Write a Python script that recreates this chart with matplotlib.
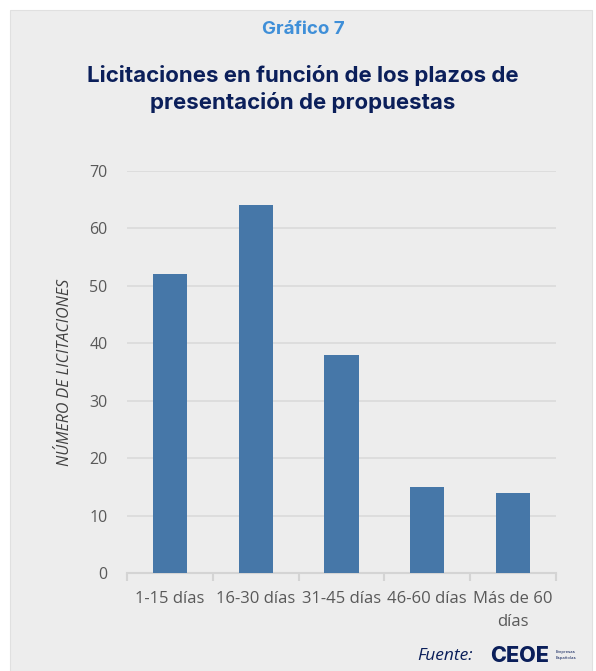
import numpy as np
import matplotlib.pyplot as plt
from matplotlib.patches import Rectangle

# ==========================
# Data
# ==========================

categories = ["1-15 días", "16-30 días", "31-45 días", "46-60 días", "Más de 60\ndías"]
values = [52, 64, 38, 15, 14]
y_ticks = [0, 10, 20, 30, 40, 50, 60, 70]

bg = "#ededed"
navy = "#0b1f5a"
gray_text = "#595959"

fig = plt.figure(figsize=(5.96, 6.71), dpi=100)
fig.patch.set_facecolor("white")

# gray panel
fig.patches.append(Rectangle((10 / 596, 0), 582 / 596, 1 - 10 / 671,
                             transform=fig.transFigure, facecolor=bg,
                             edgecolor="#e0e0e0", linewidth=0.8, zorder=-10))

ax = fig.add_axes([127 / 596, 1 - 573 / 671, 429 / 596, 402 / 671])
ax.set_facecolor(bg)

x = np.arange(len(categories))
ax.bar(x, values, width=0.4, color="#4677a8", zorder=3)

ax.set_xlim(-0.5, len(categories) - 0.5)
ax.set_ylim(0, 70)
ax.set_yticks(y_ticks)
ax.set_yticklabels([str(t) for t in y_ticks], color=gray_text, fontsize=11.5,
                   family="Open Sans")
ax.grid(axis="y", color="#dadada", linewidth=1.2, zorder=0)

for s in ["top", "right", "left"]:
    ax.spines[s].set_visible(False)
ax.spines["bottom"].set_color("#d4d4d4")
ax.spines["bottom"].set_linewidth(1.5)
ax.tick_params(axis="y", length=0, pad=14)

ax.set_xticks(np.arange(-0.5, len(categories), 1.0))
ax.set_xticklabels([])
ax.tick_params(axis="x", which="major", length=6, width=1.5, color="#d4d4d4")
ax.set_xticks(x, minor=True)
ax.set_xticklabels(categories, minor=True, color=gray_text, fontsize=12,
                   family="Open Sans", linespacing=1.6)
ax.tick_params(axis="x", which="minor", length=0, pad=13)

ax.set_ylabel("NÚMERO DE LICITACIONES", fontsize=11.5, style="italic",
              color="#404040", family="Open Sans", labelpad=12)

# ==========================
# Titles
# ==========================

fig.text(303 / 596, 1 - 30 / 671, "Gráfico 7", ha="center", va="center",
         fontsize=13.5, fontweight="bold", color="#3f8fd8", family="Inter")
fig.text(303 / 596, 1 - 89 / 671,
         "Licitaciones en función de los plazos de\npresentación de propuestas",
         ha="center", va="center", fontsize=16, fontweight="bold",
         color=navy, family="Inter", linespacing=1.32)

# ==========================
# Source
# ==========================

fig.text(473 / 596, 1 - 656 / 671, "Fuente:", ha="right", va="center",
         fontsize=12.5, style="italic", color=navy, family="Open Sans")
fig.text(490 / 596, 1 - 656 / 671, "CEOE", ha="left", va="center",
         fontsize=15.5, fontweight="heavy", color=navy, family="Inter")
fig.text(556 / 596, 1 - 652 / 671, "Empresas", ha="left", va="center",
         fontsize=3, color=navy, family="Inter")
fig.text(556 / 596, 1 - 658 / 671, "Españolas", ha="left", va="center",
         fontsize=3, color=navy, family="Inter")

plt.savefig("out.png", dpi=100, facecolor=fig.get_facecolor())
plt.close()
